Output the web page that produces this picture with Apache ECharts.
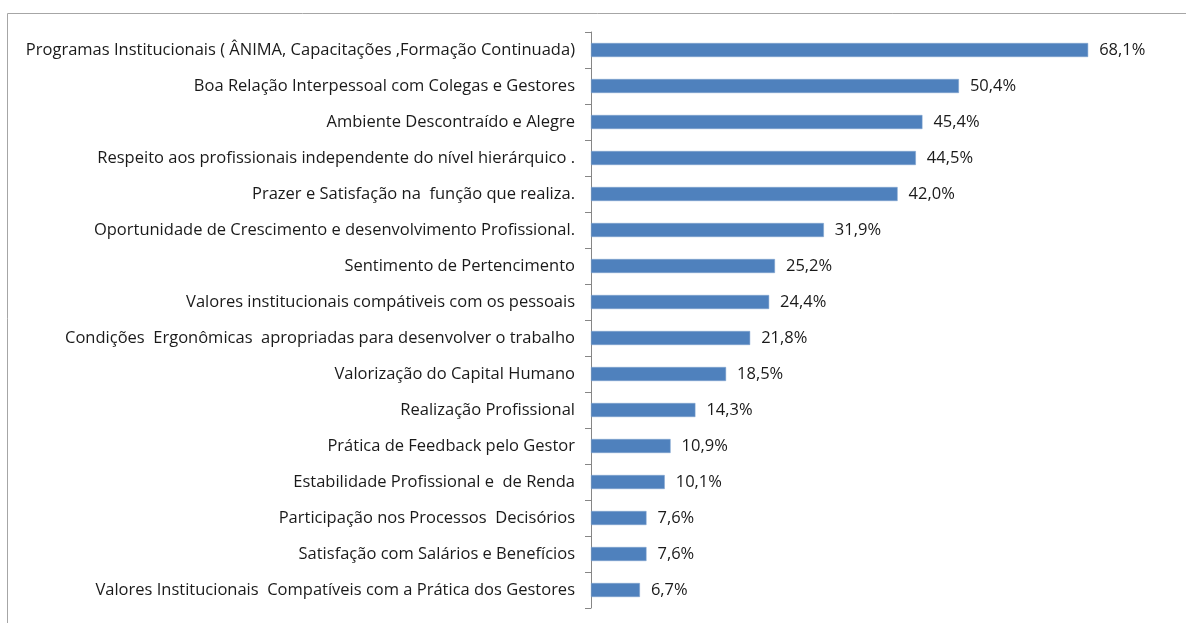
<!DOCTYPE html>
<html>
<head>
<meta charset="utf-8">
<script src="https://cdn.jsdelivr.net/npm/echarts@6/dist/echarts.min.js"></script>
<style>
  html, body { margin: 0; padding: 0; background: #fff; }
  #chart { width: 1186px; height: 623px; }
</style>
</head>
<body>
<div id="chart"></div>
<script>
  // categorias (de cima para baixo)
  const categorias = [
    'Programas Institucionais ( ÂNIMA, Capacitações ,Formação Continuada)',
    'Boa Relação Interpessoal com Colegas e Gestores',
    'Ambiente Descontraído e Alegre',
    'Respeito aos profissionais independente do nível hierárquico .',
    'Prazer e Satisfação na  função que realiza.',
    'Oportunidade de Crescimento e desenvolvimento Profissional.',
    'Sentimento de Pertencimento',
    'Valores institucionais compátiveis com os pessoais',
    'Condições  Ergonômicas  apropriadas para desenvolver o trabalho',
    'Valorização do Capital Humano',
    'Realização Profissional',
    'Prática de Feedback pelo Gestor',
    'Estabilidade Profissional e  de Renda',
    'Participação nos Processos  Decisórios',
    'Satisfação com Salários e Benefícios',
    'Valores Institucionais  Compatíveis com a Prática dos Gestores',
  ];
  const percentuais = [68.1, 50.4, 45.4, 44.5, 42.0, 31.9, 25.2, 24.4, 21.8, 18.5, 14.3, 10.9, 10.1, 7.6, 7.6, 6.7];

  const chart = echarts.init(document.getElementById('chart'));
  const option = {
    animation: false,
    grid: { left: 591, right: 11, top: 32, bottom: 15 },
    graphic: [
      {
        type: 'polyline',
        shape: { points: [[7.5, 640], [7.5, 13.5], [1200, 13.5]] },
        style: { stroke: '#a6a6a6', lineWidth: 1, fill: null },
      },
    ],
    xAxis: {
      type: 'value',
      min: 0,
      max: 80,
      show: false,
    },
    yAxis: {
      type: 'category',
      inverse: true,
      data: categorias,
      axisLine: { show: true, lineStyle: { color: '#868686', width: 1 } },
      axisTick: { show: true, interval: 0, length: 6, lineStyle: { color: '#868686' } },
      axisLabel: {
        margin: 16,
        color: '#1a1a1a',
        fontFamily: 'Open Sans',
        fontSize: 16.5,
      },
    },
    series: [
      {
        type: 'bar',
        data: percentuais,
        barWidth: 14,
        itemStyle: { color: '#4f81bd', borderColor: '#7fa3cf', borderWidth: 0.5 },
        label: {
          show: true,
          position: 'right',
          distance: 11,
          color: '#1a1a1a',
          fontFamily: 'Open Sans',
          fontSize: 16.5,
          formatter: (p) => p.value.toFixed(1).replace('.', ',') + '%',
        },
      },
    ],
  };
  chart.setOption(option);
</script>
</body>
</html>
